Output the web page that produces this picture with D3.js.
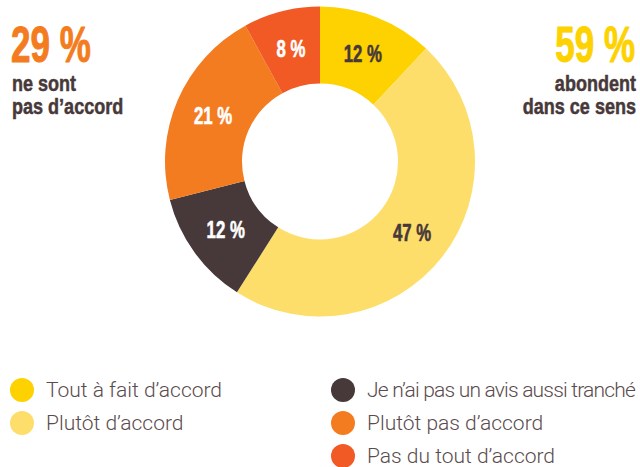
<!DOCTYPE html>
<html>
<head>
<meta charset="utf-8">
<script src="https://cdn.jsdelivr.net/npm/d3@7"></script>
<style>
  html, body { margin: 0; padding: 0; background: #ffffff; }
  svg { display: block; }
</style>
</head>
<body>
<svg id="chart" width="640" height="467"></svg>
<script>
// Survey answers, clockwise from 12 o'clock
const categories = [
  "Tout à fait d’accord",
  "Plutôt d’accord",
  "Je n’ai pas un avis aussi tranché",
  "Plutôt pas d’accord",
  "Pas du tout d’accord"
];
const values = [12, 47, 12, 21, 8];
const colors = ["#fdd200", "#fede6a", "#47383a", "#f47c20", "#f15a24"];
const labelColors = ["#47383a", "#47383a", "#ffffff", "#ffffff", "#ffffff"];

// Aggregated headline figures
const agreeTotal = 59;
const disagreeTotal = 29;
const agreeText = ["abondent", "dans ce sens"];
const disagreeText = ["ne sont", "pas d’accord"];

// Legend layout: two columns
const legendColumns = [[0, 1], [2, 3, 4]];

const svg = d3.select("#chart");
const cx = 320, cy = 161.5;
const outerR = 155, innerR = 78;

const boldFont = "'Liberation Sans', Arial, sans-serif";
const dark = "#47383a";

// Condensed heavy text: horizontally squeezed around its anchor
function condensed(parent, x, y, text, size, fill, anchor, sx, weight) {
  return parent.append("text")
    .attr("transform", `translate(${x},${y}) scale(${sx},1)`)
    .attr("text-anchor", anchor)
    .attr("font-family", boldFont)
    .attr("font-weight", "bold")
    .attr("font-size", size)
    .attr("fill", fill)
    .attr("stroke", fill)
    .attr("stroke-width", weight)
    .attr("stroke-linejoin", "round")
    .text(text);
}

// Donut
const data = categories.map((c, i) => ({ name: c, value: values[i], i }));
const pie = d3.pie().value(d => d.value).sort(null);
const arc = d3.arc().innerRadius(innerR).outerRadius(outerR);
const arcs = pie(data);

const g = svg.append("g").attr("transform", `translate(${cx},${cy})`);
g.selectAll("path.slice")
  .data(arcs)
  .join("path")
  .attr("class", "slice")
  .attr("d", arc)
  .attr("fill", d => colors[d.data.i]);

arcs.forEach(d => {
  const [lx, ly] = arc.centroid(d);
  condensed(g, lx, ly + 8.5, `${d.data.value} %`, 24, labelColors[d.data.i], "middle", 0.7, 0.6);
});

// Headlines
condensed(svg, 11, 62, `${disagreeTotal} %`, 50, "#f47c20", "start", 0.7, 1);
condensed(svg, 12, 91, disagreeText[0], 22, dark, "start", 0.82, 0.5);
condensed(svg, 12, 114, disagreeText[1], 22, dark, "start", 0.82, 0.5);

condensed(svg, 635, 62, `${agreeTotal} %`, 50, "#fdd200", "end", 0.7, 1);
condensed(svg, 636, 91, agreeText[0], 22, dark, "end", 0.82, 0.5);
condensed(svg, 636, 114, agreeText[1], 22, dark, "end", 0.82, 0.5);

// Legend
const colX = [22, 343];
const rowY = [390, 423, 456];
legendColumns.forEach((col, ci) => {
  col.forEach((idx, ri) => {
    const item = svg.append("g").attr("transform", `translate(${colX[ci]},${rowY[ri]})`);
    item.append("circle").attr("r", 12).attr("fill", colors[idx]);
    item.append("text")
      .attr("x", 24)
      .attr("y", 7)
      .attr("font-family", "Roboto, 'Liberation Sans', sans-serif")
      .attr("font-weight", 300)
      .attr("font-size", 21)
      .attr("letter-spacing", categories[idx].length > 25 ? -0.8 : 0)
      .attr("fill", "#5a4b4d")
      .text(categories[idx]);
  });
});
</script>
</body>
</html>
